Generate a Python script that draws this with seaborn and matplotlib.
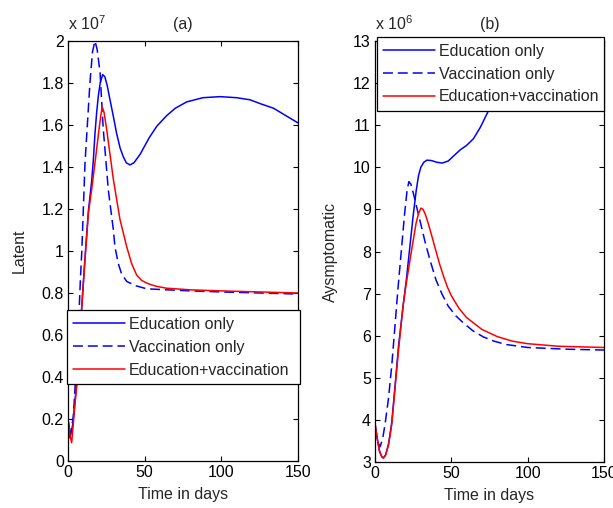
import matplotlib
matplotlib.use("Agg")
import matplotlib.pyplot as plt
from matplotlib.ticker import FuncFormatter
import seaborn as sns

# ---------------- data (panel a: Latent, x 1e7) ----------------
t_edu_a = [0, 1.3, 3, 4.6, 6.7, 8.9, 11.1, 13.3, 15.4, 16.5, 17.6, 18.7, 19.8, 21.0, 22.6, 24.0,
           25.5, 27.4, 29.6, 31.7, 34.0, 36.0, 38.0, 40.4, 43.0, 47.0, 53.0, 58.0, 64.4,
           70.0, 77.4, 88.0, 99.0, 110.0, 118.7, 126.0, 134.0, 142.0, 150.0]
edu_a = [0.20, 0.11, 0.17, 0.29, 0.45, 0.73, 0.97, 1.19, 1.33, 1.43, 1.56, 1.66, 1.74, 1.80, 1.84, 1.83,
         1.79, 1.72, 1.64, 1.56, 1.49, 1.45, 1.42, 1.41, 1.42, 1.46, 1.54, 1.595, 1.645,
         1.68, 1.71, 1.73, 1.735, 1.73, 1.72, 1.70, 1.68, 1.645, 1.61]

t_vac_a = [0, 1.3, 3.5, 4.6, 6.7, 8.0, 9.0, 11.1, 14.3, 16.0, 17.6, 19.0, 20.9, 23.0, 26.3, 29.6, 30.6,
           32.8, 35.0, 38.3, 44.0, 51.3, 65.0, 80.0, 100.0, 125.0, 150.0]
vac_a = [0.20, 0.12, 0.21, 0.35, 0.62, 0.85, 1.00, 1.42, 1.80, 1.95, 2.00, 1.96, 1.85, 1.58, 1.29, 1.10, 1.02,
         0.94, 0.89, 0.855, 0.835, 0.82, 0.815, 0.81, 0.805, 0.80, 0.795]

t_both_a = [0, 1.3, 2.4, 4.6, 6.7, 8.9, 11.1, 13.3, 15.4, 17.6, 20.4, 21.5, 22.4, 23.5, 25.2, 29.6, 33.9,
            38.3, 41.5, 44.8, 48.0, 52.0, 57.0, 64.0, 80.0, 100.0, 125.0, 150.0]
both_a = [0.20, 0.12, 0.087, 0.275, 0.43, 0.72, 0.96, 1.18, 1.29, 1.42, 1.59, 1.65, 1.685, 1.66, 1.58, 1.34, 1.15,
          1.02, 0.94, 0.885, 0.86, 0.845, 0.833, 0.823, 0.815, 0.81, 0.805, 0.80]

# ---------------- data (panel b: Asymptomatic, x 1e6) ----------------
t_edu_b = [0, 1.5, 3.0, 4.5, 5.5, 7.0, 8.8, 10.0, 11.0, 13.0, 15.4, 18.4, 20.6, 22.8, 25.0, 27.0,
           28.5, 30.0, 32.0, 34.0, 37.0, 40.5, 44.0, 48.0, 51.5, 56.0, 60.0, 64.5, 69.0, 74.0,
           85.0, 100.0, 125.0, 150.0]
edu_b = [3.92, 3.55, 3.25, 3.12, 3.10, 3.17, 3.42, 3.70, 3.95, 4.75, 5.75, 6.70, 7.35, 8.10, 8.85, 9.45,
         9.80, 10.0, 10.12, 10.17, 10.16, 10.12, 10.10, 10.15, 10.27, 10.42, 10.52, 10.68, 10.95, 11.32,
         11.9, 12.4, 13.0, 13.5]

t_vac_b = [0, 1.5, 3.3, 5.0, 6.6, 8.8, 11.0, 13.0, 15.0, 17.2, 19.4, 21.0, 22.2, 23.5, 25.0,
           27.0, 30.0, 33.0, 36.0, 40.0, 44.0, 48.0, 53.0, 58.0, 64.0, 71.0,
           78.0, 86.0, 100.0, 125.0, 150.0]
vac_b = [3.8, 3.5, 3.36, 3.55, 3.9, 4.5, 5.3, 6.2, 7.1, 8.0, 8.9, 9.45, 9.66, 9.6, 9.4,
         9.1, 8.65, 8.2, 7.8, 7.32, 6.98, 6.7, 6.47, 6.3, 6.12, 5.97,
         5.87, 5.79, 5.72, 5.68, 5.66]

t_both_b = [0, 1.5, 3.0, 4.5, 5.5, 7.0, 8.8, 10.0, 11.0, 13.0, 15.4, 18.5, 20.3, 23.6, 26.9, 28.5,
            30.1, 31.5, 33.0, 35.0, 37.5, 40.0, 42.5, 45.0, 47.5, 50.0, 55.0, 60.0, 70.0, 80.0,
            90.0, 100.0, 120.0, 150.0]
both_b = [3.92, 3.55, 3.25, 3.12, 3.09, 3.17, 3.40, 3.65, 3.90, 4.70, 5.66, 6.75, 7.20, 7.95, 8.67, 8.90,
          9.03, 9.00, 8.88, 8.65, 8.33, 8.00, 7.68, 7.40, 7.15, 6.95, 6.65, 6.43, 6.15, 5.98,
          5.87, 5.81, 5.75, 5.72]

labels = ["Education only", "Vaccination only", "Education+vaccination"]
xticks = [0, 50, 100, 150]
yticks_a = [0, 0.2, 0.4, 0.6, 0.8, 1.0, 1.2, 1.4, 1.6, 1.8, 2.0]
yticks_b = [3, 4, 5, 6, 7, 8, 9, 10, 11, 12, 13]

# ---------------- style ----------------
sns.set_style("ticks")
plt.rcParams['font.family'] = ['Liberation Sans', 'DejaVu Sans']
plt.rcParams['mathtext.default'] = 'regular'
plt.rcParams.update({
    'xtick.direction': 'in', 'ytick.direction': 'in',
    'xtick.top': True, 'ytick.right': True,
    'xtick.major.size': 3.5, 'ytick.major.size': 3.5,
    'xtick.major.width': 0.8, 'ytick.major.width': 0.8,
    'axes.linewidth': 0.9, 'axes.edgecolor': 'black',
    'xtick.color': 'black', 'ytick.color': 'black',
    'font.size': 11.5,
})

FS = 11.5
fig = plt.figure(figsize=(6.13, 5.08), dpi=100)
ax1 = fig.add_axes([68 / 613, 47 / 508, 230 / 613, 420 / 508])
ax2 = fig.add_axes([375 / 613, 46 / 508, 229 / 613, 421 / 508])

dash = (0, (6.5, 3.2))
LW = 1.1

def draw(ax, te, ye, tv, yv, tb, yb):
    sns.lineplot(x=te, y=ye, ax=ax, color=(0, 0, 1), lw=LW, label=labels[0], errorbar=None)
    sns.lineplot(x=tv, y=yv, ax=ax, color=(0, 0, 1), lw=LW, linestyle=dash, label=labels[1], errorbar=None)
    sns.lineplot(x=tb, y=yb, ax=ax, color=(1, 0, 0), lw=LW, label=labels[2], errorbar=None)

draw(ax1, t_edu_a, edu_a, t_vac_a, vac_a, t_both_a, both_a)
draw(ax2, t_edu_b, edu_b, t_vac_b, vac_b, t_both_b, both_b)

fmt = FuncFormatter(lambda v, p: f"{v:g}")
for ax, yt, ylim in [(ax1, yticks_a, (0, 2)), (ax2, yticks_b, (3, 13))]:
    ax.set_xlim(0, 150)
    ax.set_ylim(*ylim)
    ax.set_xticks(xticks)
    ax.set_yticks(yt)
    ax.yaxis.set_major_formatter(fmt)
    ax.xaxis.set_major_formatter(fmt)
    ax.tick_params(labelsize=FS, pad=3)
    for s in ax.spines.values():
        s.set_visible(True)
        s.set_color('black')
    ax.set_xlabel("Time in days", fontsize=FS)
    ax.xaxis.set_label_coords(0.5, -0.062)

ax1.set_ylabel("Latent", fontsize=FS)
ax1.yaxis.set_label_coords(-0.178, 0.5)
ax2.set_ylabel("Aysmptomatic", fontsize=FS)
ax2.yaxis.set_label_coords(-0.162, 0.5)

ax1.set_title("(a)", fontsize=FS, pad=9)
ax2.set_title("(b)", fontsize=FS, pad=9)
ax1.text(0.0, 1.018, "x 10$^7$", transform=ax1.transAxes, fontsize=FS, ha='left', va='bottom')
ax2.text(0.0, 1.018, "x 10$^6$", transform=ax2.transAxes, fontsize=FS, ha='left', va='bottom')

def legend(ax, bbox):
    leg = ax.legend(loc='lower left', bbox_to_anchor=bbox, mode='expand', borderaxespad=0,
                    frameon=True, fancybox=False, edgecolor='black', framealpha=1,
                    handlelength=3.2, handletextpad=0.25, fontsize=FS, labelspacing=0.5,
                    borderpad=0.4)
    leg.get_frame().set_linewidth(0.9)
    leg.set_zorder(10)

legend(ax1, (-0.004, 0.183, 1.013, 0.174))
legend(ax2, (0.009, 0.834, 0.991, 0.176))

fig.savefig("out.png", dpi=100)
